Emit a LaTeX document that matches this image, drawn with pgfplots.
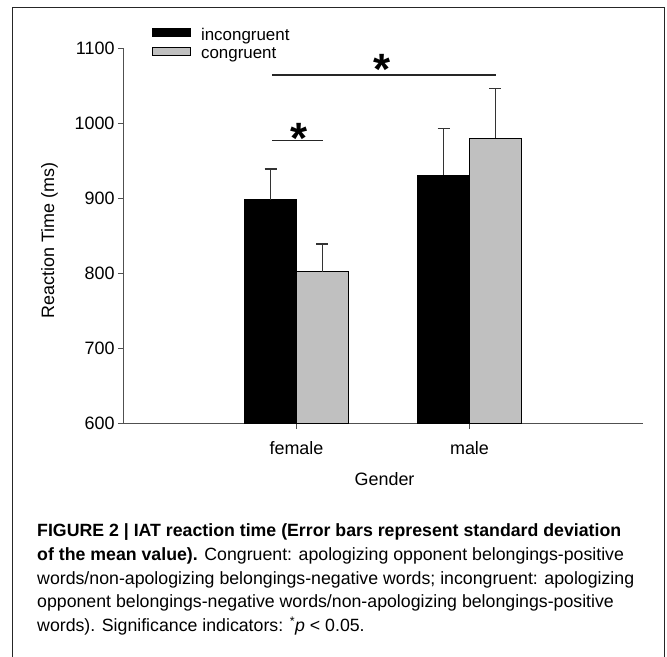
\documentclass[border=0pt]{standalone}
\usepackage{pgfplots}
\pgfplotsset{compat=1.18}
\usepackage{fontspec}
\setmainfont{Liberation Sans}
\definecolor{bargray}{RGB}{192,192,192}
\definecolor{axgray}{RGB}{80,80,80}
\begin{document}
\begin{tikzpicture}
\path[use as bounding box] (0bp,0bp) rectangle (667bp,657bp);
\draw[line width=1.3bp, black!85] (12.5bp,0bp) -- (12.5bp,649.5bp) -- (664.5bp,649.5bp) -- (664.5bp,0bp);
\begin{axis}[
  at={(123.5bp,233.7bp)}, anchor=south west,
  scale only axis, width=519bp, height=375bp,
  xmin=0, xmax=3, ymin=600, ymax=1100,
  axis x line*=bottom, axis y line*=left,
  axis line style={-, draw=axgray, line width=1.2bp},
  xtick={1,2}, xticklabels={female,male},
  ytick={600,700,...,1100},
  tick align=outside,
  x tick style={draw=axgray, line width=1.1bp},
  y tick style={draw=axgray, line width=1.1bp},
  major tick length=5.5bp,
  /pgf/number format/1000 sep={},
  /pgf/number format/assume math mode=true,
  tick label style={font=\fontsize{18}{20}\selectfont},
  xticklabel style={anchor=base, yshift=-26bp},
  ylabel={Reaction Time (ms)},
  xlabel={Gender},
  label style={font=\fontsize{18}{20}\selectfont},
  ylabel style={at={(axis description cs:-0.1425,0.488)}, anchor=center, rotate=0},
  xlabel style={at={(axis description cs:0.503,0)}, anchor=base, yshift=-62.7bp},
  legend style={at={(axis description cs:0.055,1.055)}, anchor=north west,
    draw=none, fill=none, inner sep=0pt, column sep=10bp, row sep=0pt,
    font=\fontsize{17}{18}\selectfont,
    nodes={inner sep=0pt, text height=12.5bp, text depth=6bp}},
  legend cell align=left,
  legend image code/.code={\draw[#1, line width=0.8bp] (0bp,0.3bp) rectangle (38bp,8.3bp);},
]
\addplot[ybar, bar width=0.3, bar shift=-0.15, fill=black, draw=black, line width=1bp]
  coordinates {(1,898) (2,931)};
\addlegendentry{incongruent}
\addplot[ybar, bar width=0.3, bar shift=0.15, fill=bargray, draw=black, line width=1bp]
  coordinates {(1,802) (2,980)};
\addlegendentry{congruent}
% error bars (plus direction only), at the bar centres
\addplot[forget plot, draw=none, mark=none,
  error bars/.cd, y dir=plus, y explicit, error mark=|,
  error bar style={line width=1.2bp, draw=black!80, solid},
  error mark options={mark size=6bp, line width=1.2bp, draw=black!80}]
  coordinates {(0.85,898) +- (0,41) (1.85,931) +- (0,62) (1.15,802) +- (0,37) (2.15,980) +- (0,66)};
\draw[line width=1.2bp, black!85] (axis cs:0.8575,1064.4) -- (axis cs:2.154,1064.4);
\draw[line width=1.2bp, black!85] (axis cs:0.8587,976.8) -- (axis cs:1.153,976.8);
\node[anchor=base, inner sep=0pt, font=\bfseries\fontsize{44}{44}\selectfont] at (axis cs:1.4957,1051.5) {*};
\node[anchor=base, inner sep=0pt, font=\bfseries\fontsize{44}{44}\selectfont] at (axis cs:1.0123,959.5) {*};
\end{axis}
\node[anchor=north west, inner sep=0pt, align=left,
  font=\fontsize{17.8}{24}\selectfont] at (37bp,135bp) {%
\rule{0pt}{14bp}\mbox{\textbf{FIGURE 2 | IAT reaction time (Error bars represent standard deviation}}\\
\mbox{\textbf{of the mean value).} Congruent: apologizing opponent belongings-positive}\\
\mbox{words/non-apologizing belongings-negative words; incongruent: apologizing}\\
\mbox{opponent belongings-negative words/non-apologizing belongings-positive}\\
\mbox{words). Significance indicators: \textsuperscript{*}\textit{p} < 0.05.}};
\end{tikzpicture}
\end{document}
